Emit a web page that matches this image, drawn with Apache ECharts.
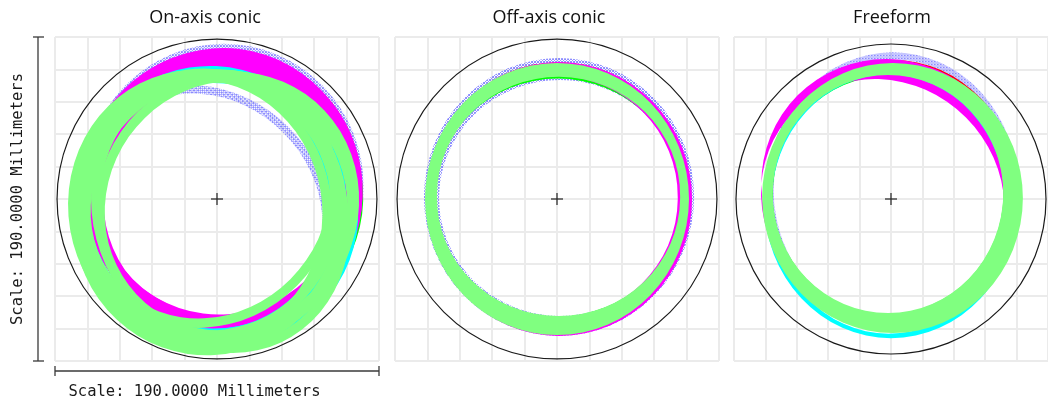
<!DOCTYPE html>
<html><head><meta charset="utf-8">
<script src="https://cdn.jsdelivr.net/npm/echarts@6/dist/echarts.min.js"></script>
<style>html,body{margin:0;padding:0;background:#fff}#c{width:1048px;height:405px}</style>
</head><body><div id="c"></div>
<script>
// ---------------- data ----------------
const panelTitles = ['On-axis conic', 'Off-axis conic', 'Freeform'];
const scaleLabel = 'Scale: 190.0000 Millimeters';
const axisMin = -95, axisMax = 95, gridStep = 19;   // millimeters
const apertureRadius = 93.8;                          // mm
// footprint rings (mm): [field, cx, cy, rx, ry, innerCx, innerCy, innerRx, innerRy, rotationDeg]
const onAxisRings = [
  [0, 4, 7, 82, 84, 4, 7, 78, 80, 0],
  [0, -6, -6, 77, 68, -6, -6, 72, 63.5, -45],
  [0, 3, 3, 80, 79, 3, 3, 76, 75, 30],
  [1, 6, 2, 80, 79, 6, 2, 76, 75, -30],
  [1, -4, -6, 80, 82, -4, -6, 77, 79, 20],
  [2, 5, 6, 80, 81, 5, 6, 76.5, 77.5, 10],
  [2, 3, 2, 80, 78, 3, 2, 76.5, 74.5, 45],
  [2, -5, -3, 79, 77, -5, -3, 75.5, 73.5, -20],
  [3, 3, 6, 82, 82, 3, 6, 74, 75, 0],
  [3, 5, 3, 80, 82, 5, 3, 73, 75, -30],
  [3, 2, 7, 82, 80, 2, 7, 75, 74, 60],
  [3, 6, 0, 78, 80, 6, 0, 72, 73, -50],
  [3, -3, -1, 80, 80, -3, -1, 75, 75, 30],
  [4, -4, -2, 80, 80, -4, -2, 76, 76, 20],
  [4, 1, -7, 82, 80, 1, -7, 78, 76, -15],
  [4, -7, -3, 76, 79, -7, -3, 72, 75, 45],
  [4, -2, -4, 77, 76, -2, -4, 73, 72, 0],
  [5, -10, -6, 77, 82, -10, -6, 71.5, 76.5, 15],
  [5, -4, -9, 80, 83, -4, -9, 74.5, 77.5, -20],
  [5, 6, -4, 76, 80, 6, -4, 70.5, 74.5, -35],
  [5, -4, 0, 79, 72, -4, 0, 73.5, 66.5, 45],
  [5, 2, -8, 74, 84, 2, -8, 68.5, 78.5, 25],
  [5, -6, -3, 80, 78, -6, -3, 74.5, 72.5, -60],
  [5, 0, -5, 82, 81, 0, -5, 76.5, 75.5, 10]
];
const offAxisRings = [
  [0, 1.2, 1.2, 79.2, 81.5, 1.8, 0.6, 71, 69.2, 0],
  [1, 0, 0.6, 75, 78.6, 0.4, 0.8, 72.5, 69.8, 0],
  [2, 1.0, 0.2, 77.5, 80, 0.5, 0.2, 71.5, 71.5, 0],
  [3, 1.2, 0, 78, 80.3, -0.5, 1.0, 71.3, 70.5, 0],
  [5, 0, 0, 77.4, 79.8, 0.9, 1.5, 71.3, 69.5, 0]
];
const freeformRings = [
  [0, 1, 5, 76, 81, 1, 5, 72, 77, 0],
  [1, 0, 1, 76, 78, -1.8, 2.4, 69.8, 69.8, 0],
  [2, 1, 3, 76, 78.6, -1.8, 3, 72, 74, 0],
  [3, -1, 7, 78.5, 74, -5, -1, 76, 69, -45],
  [4, 0, -1.8, 76.8, 79.8, -1.5, -3, 71, 76, 0],
  [5, 1.2, 0.6, 78.6, 79.2, -1.8, 2.9, 69.8, 69.8, 0],
  [5, -1, 1, 77, 77, -4, 4, 72, 72, 0]
];
const panelRings = [onAxisRings, offAxisRings, freeformRings];
const apertureCenter = [[0, 0, apertureRadius]];

// ---------------- styles ----------------
const fieldColors = ['#8c8cff', '#00ff00', '#ff0000', '#ff00ff', '#00ffff', '#80ff80'];
function crossPattern() {
  const cv = document.createElement('canvas');
  cv.width = 3; cv.height = 3;
  const g = cv.getContext('2d');
  g.fillStyle = 'rgba(110,110,255,0.8)';
  [[0,0],[2,0],[1,1],[0,2],[2,2]].forEach(p => g.fillRect(p[0], p[1], 1, 1));
  return cv;
}
const bluePattern = { image: crossPattern(), repeat: 'repeat' };

const GRID_TOP = 37, GRID_SIZE = 324;
const gridLefts = [55, 395, 734];
const titleCenters = [205, 549, 892];

function ellipseLocal(x, y, rx, ry, sweep) {
  const f = v => v.toFixed(2);
  return 'M' + f(x + rx) + ' ' + f(y) +
    ' A' + f(rx) + ' ' + f(ry) + ' 0 1 ' + sweep + ' ' + f(x - rx) + ' ' + f(y) +
    ' A' + f(rx) + ' ' + f(ry) + ' 0 1 ' + sweep + ' ' + f(x + rx) + ' ' + f(y) + ' Z ';
}
function ringItem(params, api) {
  const field = api.value(0);
  const c = api.coord([api.value(1), api.value(2)]);
  const r = api.size([api.value(3), api.value(4)]);
  const ci = api.coord([api.value(5), api.value(6)]);
  const ri = api.size([api.value(7), api.value(8)]);
  const th = api.value(9) * Math.PI / 180;
  const dx = ci[0] - c[0], dy = ci[1] - c[1];
  const lx = Math.cos(th) * dx - Math.sin(th) * dy;
  const ly = Math.sin(th) * dx + Math.cos(th) * dy;
  const d = ellipseLocal(0, 0, r[0], r[1], 1) + ellipseLocal(lx, ly, ri[0], ri[1], 0);
  return {
    type: 'path', x: c[0], y: c[1], rotation: th,
    shape: { pathData: d },
    style: { fill: field === 0 ? bluePattern : fieldColors[field], stroke: null }
  };
}
function apertureItem(params, api) {
  const c = api.coord([api.value(0), api.value(1)]);
  const r = api.size([api.value(2), api.value(2)])[0];
  return {
    type: 'group',
    children: [
      { type: 'circle', shape: { cx: c[0], cy: c[1], r: r }, style: { fill: 'none', stroke: '#1a1a1a', lineWidth: 1.2 } },
      { type: 'line', shape: { x1: c[0] - 6, y1: c[1], x2: c[0] + 6, y2: c[1] }, style: { stroke: '#222', lineWidth: 1.2 } },
      { type: 'line', shape: { x1: c[0], y1: c[1] - 6, x2: c[0], y2: c[1] + 6 }, style: { stroke: '#222', lineWidth: 1.2 } }
    ]
  };
}

const grids = [], xAxes = [], yAxes = [], series = [];
const splitLine = { show: true, lineStyle: { color: '#ebebeb', width: 2 } };
panelRings.forEach((rings, i) => {
  grids.push({ left: gridLefts[i], top: GRID_TOP, width: GRID_SIZE, height: GRID_SIZE });
  const ax = { gridIndex: i, type: 'value', min: axisMin, max: axisMax, interval: gridStep,
    axisLine: { show: false }, axisTick: { show: false }, axisLabel: { show: false }, splitLine };
  xAxes.push(Object.assign({}, ax));
  yAxes.push(Object.assign({}, ax));
  series.push({ type: 'custom', name: panelTitles[i], xAxisIndex: i, yAxisIndex: i,
    data: rings, renderItem: ringItem, silent: true, z: 2 });
  series.push({ type: 'custom', xAxisIndex: i, yAxisIndex: i,
    data: apertureCenter, renderItem: apertureItem, silent: true, z: 3 });
});

const barColor = '#3a3a3a';
const gL = gridLefts[0], gT = GRID_TOP, gB = GRID_TOP + GRID_SIZE, gR = gridLefts[0] + GRID_SIZE;
const graphics = [
  { type: 'line', shape: { x1: 38, y1: gT, x2: 38, y2: gB }, style: { stroke: barColor, lineWidth: 1.3 } },
  { type: 'line', shape: { x1: 33, y1: gT, x2: 44, y2: gT }, style: { stroke: barColor, lineWidth: 1.3 } },
  { type: 'line', shape: { x1: 33, y1: gB, x2: 44, y2: gB }, style: { stroke: barColor, lineWidth: 1.3 } },
  { type: 'line', shape: { x1: gL, y1: 371, x2: gR, y2: 371 }, style: { stroke: barColor, lineWidth: 1.3 } },
  { type: 'line', shape: { x1: gL, y1: 366, x2: gL, y2: 376 }, style: { stroke: barColor, lineWidth: 1.3 } },
  { type: 'line', shape: { x1: gR, y1: 366, x2: gR, y2: 376 }, style: { stroke: barColor, lineWidth: 1.3 } },
  { type: 'text', x: 18, y: 199, rotation: Math.PI / 2,
    style: { text: scaleLabel, font: '15.5px "DejaVu Sans Mono"', fill: '#1a1a1a', textAlign: 'center', textVerticalAlign: 'middle' } },
  { type: 'text', x: 194.5, y: 392,
    style: { text: scaleLabel, font: '15.5px "DejaVu Sans Mono"', fill: '#1a1a1a', textAlign: 'center', textVerticalAlign: 'middle' } }
];
panelTitles.forEach((t, i) => {
  graphics.push({ type: 'text', x: titleCenters[i], y: 17.5,
    style: { text: t, font: '18px "Open Sans"', fill: '#111', textAlign: 'center', textVerticalAlign: 'middle' } });
});

const chart = echarts.init(document.getElementById('c'), null, { renderer: 'canvas' });
chart.setOption({
  animation: false,
  backgroundColor: '#fff',
  grid: grids, xAxis: xAxes, yAxis: yAxes, series: series,
  graphic: graphics
});
</script></body></html>
